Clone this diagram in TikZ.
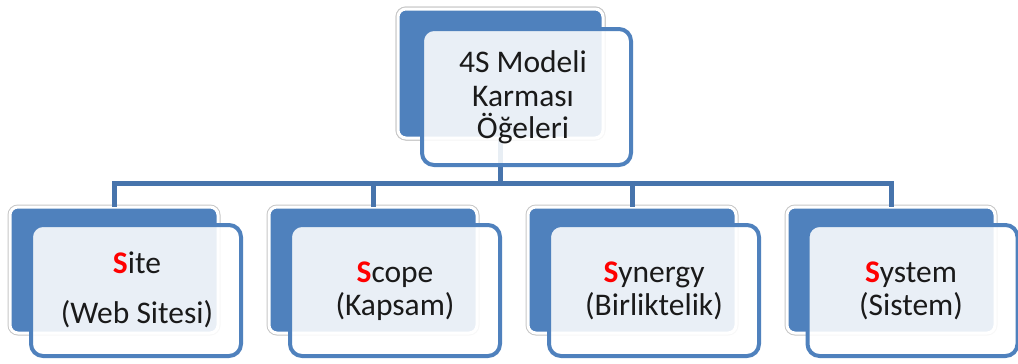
\documentclass[tikz,border=0pt]{standalone}
\usepackage{fontspec}
\setmainfont{Carlito}
\definecolor{oblue}{HTML}{4F81BD}
\definecolor{cblue}{HTML}{4774AC}
\definecolor{txt}{HTML}{1A1A1A}
\definecolor{sred}{HTML}{FF0000}
\begin{document}
\begin{tikzpicture}[x=1pt,y=-1pt,
  backbox/.style={shape=rectangle, outer sep=0pt, inner sep=0pt, rounded corners=8pt,
    fill=oblue, draw=white, line width=3pt,
    preaction={draw=black!22, line width=5pt}},
  frontbox/.style={shape=rectangle, outer sep=0pt, inner sep=0pt, rounded corners=12pt,
    draw=oblue, line width=4pt, fill=white, fill opacity=0.88},
  conn/.style={draw=cblue, line width=5pt},
  lbl/.style={anchor=base, inner sep=0pt, text=txt, font=\fontsize{31.5}{36}\selectfont}]
\useasboundingbox (0,0) rectangle (1018,364);
\fill[white] (0,0) rectangle (1018,364);
\coordinate (bar) at (0,183);
% back boxes
\node[backbox, minimum width=205pt, minimum height=129pt] (tb) at (500.5,73.5) {};
\node[backbox, minimum width=208pt, minimum height=126pt] (b1) at (114,270) {};
\node[backbox, minimum width=208pt, minimum height=126pt] (b2) at (373,270) {};
\node[backbox, minimum width=208pt, minimum height=126pt] (b3) at (632,270) {};
\node[backbox, minimum width=208pt, minimum height=126pt] (b4) at (891,270) {};
% connectors
\draw[conn] (tb.south) -- (tb.south |- bar) -| (b1.north);
\draw[conn] (tb.south |- bar) -| (b2.north);
\draw[conn] (tb.south |- bar) -| (b3.north);
\draw[conn] (tb.south |- bar) -| (b4.north);
% redraw back box over connector end
\node[backbox, minimum width=205pt, minimum height=129pt] at (tb) {};
% front boxes
\node[frontbox, minimum width=209pt, minimum height=136pt] (tf) at (526.5,97) {};
\node[frontbox, minimum width=210pt, minimum height=131pt] (f1) at (136,290.5) {};
\node[frontbox, minimum width=210pt, minimum height=131pt] (f2) at (395,290.5) {};
\node[frontbox, minimum width=210pt, minimum height=131pt] (f3) at (654,290.5) {};
\node[frontbox, minimum width=210pt, minimum height=131pt] (f4) at (912.5,290.5) {};
% texts
\node[lbl] (t1) at (523,72) {4S Modeli};
\node[lbl] (t2) at (523,106) {Karması};
\node[lbl] (t3) at (523,138) {Öğeleri};
\node[lbl] (s1a) at (137,273) {\textcolor{sred}{\textbf{S}}ite};
\node[lbl] (s1b) at (137,323) {(Web Sitesi)};
\node[lbl] (s2a) at (395,282) {\textcolor{sred}{\textbf{S}}cope};
\node[lbl] (s2b) at (395,315) {(Kapsam)};
\node[lbl] (s3a) at (654,282) {\textcolor{sred}{\textbf{S}}ynergy};
\node[lbl] (s3b) at (654,315) {(Birliktelik)};
\node[lbl] (s4a) at (911,282) {\textcolor{sred}{\textbf{S}}ystem};
\node[lbl] (s4b) at (911,315) {(Sistem)};
\end{tikzpicture}
\end{document}
